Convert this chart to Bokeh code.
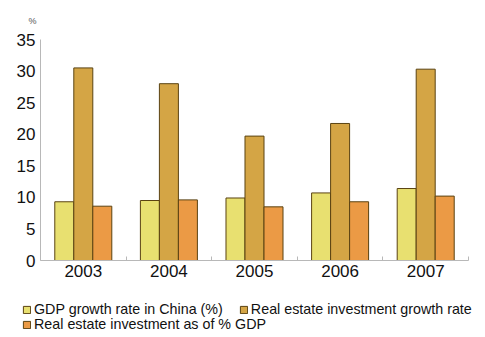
from bokeh.plotting import figure
from bokeh.layouts import column, row
from bokeh.models import (Range1d, FixedTicker, Legend, LegendItem,
                          ColumnDataSource)
from bokeh.embed import file_html
from bokeh.resources import INLINE

years = ["2003", "2004", "2005", "2006", "2007"]
gdp_growth = [9.3, 9.5, 9.9, 10.7, 11.4]
re_invest_growth = [30.5, 28.0, 19.7, 21.7, 30.3]
re_invest_gdp = [8.6, 9.6, 8.5, 9.3, 10.2]
series_names = ["GDP growth rate in China (%)",
                "Real estate investment growth rate",
                "Real estate investment as of % GDP"]
colors = ["#E8E070", "#D4A545", "#EB9A45"]
y_ticks = [0, 5, 10, 15, 20, 25, 30, 35]

FONT = "Liberation Sans"
EDGE = "#5A4312"
centers = [i + 0.5 for i in range(len(years))]
bw = 0.222
series = [gdp_growth, re_invest_growth, re_invest_gdp]

p = figure(width=485, height=290, output_backend="svg", toolbar_location=None,
           x_range=Range1d(0, len(years)), y_range=Range1d(0, 35),
           min_border_left=40, min_border_right=17, min_border_top=38,
           min_border_bottom=30, title="%")
p.outline_line_color = None
p.xgrid.visible = False
p.ygrid.visible = False
p.background_fill_color = "white"
p.border_fill_color = "white"

p.title.text_font = FONT
p.title.text_font_size = "9px"
p.title.text_font_style = "normal"
p.title.text_color = "#555555"
p.title.align = "left"
p.title.offset = -12
p.title.standoff = 27
p.title.text_line_height = 0.6

for k, vals in enumerate(series):
    src = ColumnDataSource(dict(x=[c + (k - 1) * bw for c in centers], top=vals))
    p.vbar(x="x", top="top", width=bw, source=src, fill_color=colors[k],
           line_color=EDGE, line_width=1)

# axes
p.yaxis.ticker = FixedTicker(ticks=y_ticks)
p.yaxis.major_tick_line_color = None
p.yaxis.major_tick_out = 0
p.yaxis.major_tick_in = 0
p.yaxis.minor_tick_line_color = None
p.yaxis.axis_line_color = "#B8B8B8"
p.yaxis.major_label_text_font = FONT
p.yaxis.major_label_text_font_size = "17px"
p.yaxis.major_label_text_color = "#111111"
p.yaxis.major_label_standoff = 5

p.xaxis.ticker = FixedTicker(ticks=centers, minor_ticks=list(range(len(years) + 1)))
p.xaxis.major_label_overrides = {c: y for c, y in zip(centers, years)}
p.xaxis.major_tick_line_color = None
p.xaxis.major_tick_out = 0
p.xaxis.major_tick_in = 0
p.xaxis.minor_tick_line_color = "#B8B8B8"
p.xaxis.minor_tick_in = 4
p.xaxis.minor_tick_out = 0
p.xaxis.axis_line_color = "#B8B8B8"
p.xaxis.major_label_text_font = FONT
p.xaxis.major_label_text_font_size = "17px"
p.xaxis.major_label_text_color = "#111111"
p.xaxis.major_label_standoff = 4

# legend strip (its bars lie far outside its visible ranges, only the legend shows)
lf = figure(width=485, height=47, output_backend="svg", toolbar_location=None,
            x_range=Range1d(-100, -95), y_range=Range1d(-2000, -1999),
            x_axis_location=None, y_axis_location=None,
            min_border=0, min_border_left=0, min_border_right=0,
            min_border_top=0, min_border_bottom=0)
lf.outline_line_color = None
lf.xgrid.visible = False
lf.ygrid.visible = False

lr = []
for k, vals in enumerate(series):
    src = ColumnDataSource(dict(x=[c + (k - 1) * bw for c in centers], top=vals))
    lr.append(lf.vbar(x="x", top="top", width=bw, source=src,
                      fill_color=colors[k], line_color=EDGE, line_width=1))

def make_legend(items, loc):
    return Legend(items=items, location=loc, orientation="horizontal",
                  padding=0, margin=0, spacing=16, label_standoff=3,
                  glyph_width=9, glyph_height=9, label_height=14,
                  label_text_font=FONT, label_text_font_size="14.3px",
                  label_text_color="#111111", border_line_color=None,
                  background_fill_alpha=0)

lg1 = make_legend([LegendItem(label=series_names[0], renderers=[lr[0]]),
                   LegendItem(label=series_names[1], renderers=[lr[1]])],
                  (22, 20))
lg2 = make_legend([LegendItem(label=series_names[2], renderers=[lr[2]])],
                  (22, 5))
lf.add_layout(lg1, "center")
lf.add_layout(lg2, "center")

layout = column(p, row(lf), spacing=0)
open("out.html", "w").write(file_html(layout, INLINE))
